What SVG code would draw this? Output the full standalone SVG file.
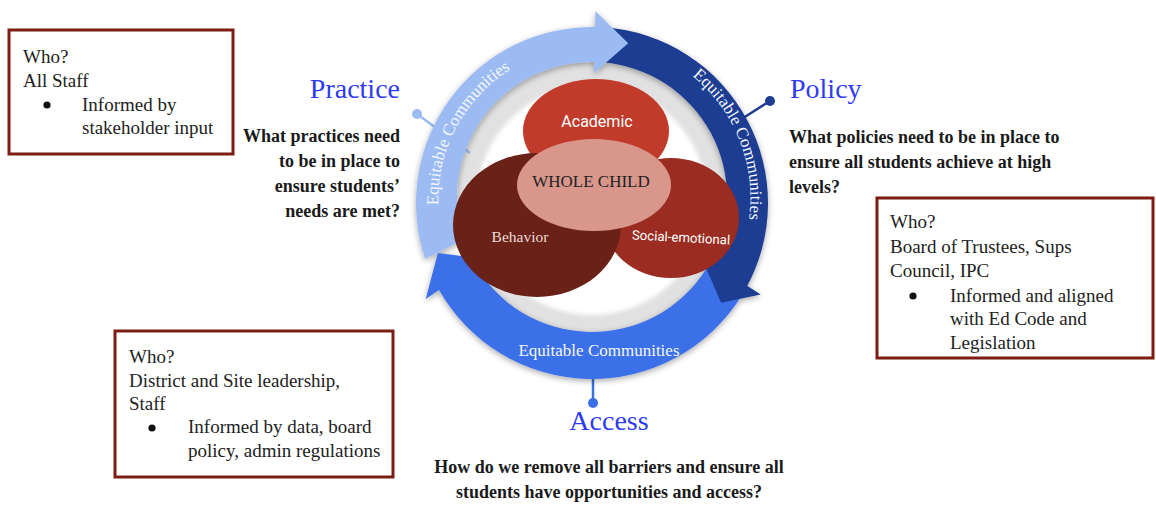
<svg xmlns="http://www.w3.org/2000/svg" width="1156" height="513" viewBox="0 0 1156 513">
<style>
.box{fill:#fff;stroke:#7d1c12;stroke-width:3}
.bt{font-family:"Liberation Serif",serif;font-size:19px;fill:#222}
.head{font-family:"Liberation Serif",serif;font-size:28px;fill:#2e3bf2}
.q{font-family:"Liberation Serif",serif;font-size:18px;font-weight:bold;fill:#1a1a1a}
.eq{font-family:"Liberation Serif",serif;font-size:17px;fill:#f4f7fe}
.rob{font-family:Roboto,"Liberation Sans",sans-serif;fill:#fff}
</style>
<defs>
<filter id="sh" x="-20%" y="-20%" width="140%" height="140%">
<feGaussianBlur in="SourceAlpha" stdDeviation="3"/>
<feOffset dx="0" dy="2" result="b"/>
<feComponentTransfer><feFuncA type="linear" slope="0.35"/></feComponentTransfer>
<feMerge><feMergeNode/><feMergeNode in="SourceGraphic"/></feMerge>
</filter>
<filter id="soft"><feGaussianBlur stdDeviation="2"/></filter>
<path id="arcL" d="M 458.63 276.69 A 154 154 0 0 1 581.26 46.38"/>
<path id="arcR" d="M 620.44 43.37 A 157 157 0 0 1 719.02 292.28"/>
</defs>

<g id="hub">
<circle cx="592" cy="198" r="137" fill="#e1e1e1"/>
<circle cx="592" cy="200" r="115" fill="#fff" filter="url(#soft)"/>
</g>

<g id="connectors">
<line x1="417" y1="114" x2="470" y2="153" stroke="#9dbbf3" stroke-width="2.5"/>
<circle cx="417" cy="114" r="5" fill="#9dbbf3"/>
<line x1="770" y1="101" x2="740" y2="120" stroke="#1e3c91" stroke-width="2.5"/>
<circle cx="770" cy="101" r="5" fill="#1e3c91"/>
<line x1="593" y1="372" x2="593" y2="403" stroke="#3b6fe8" stroke-width="2.5"/>
<circle cx="593" cy="403" r="5" fill="#3b6fe8"/>
</g>

<g id="cycle" filter="url(#sh)">
<path fill="#9dbbf3" d="M 425.10 258.85 A 176 176 0 0 1 598.14 27.11 L 596.71 62.08 A 135 135 0 0 0 463.98 239.84 Z"/>
<path fill="#1e3c91" d="M 604.28 27.43 A 176 176 0 0 1 745.18 289.67 L 709.50 263.48 A 135 135 0 0 0 601.42 62.33 Z"/>
<path fill="#3b6fe8" d="M 741.26 296.27 A 176 176 0 0 1 438.07 288.33 L 473.93 262.45 A 135 135 0 0 0 706.49 268.54 Z"/>
<polygon fill="#9dbbf3" points="595.35,11.03 628.22,43.13 594.16,73.02"/>
<polygon fill="#1e3c91" points="760.73,294.61 721.13,302.71 700.97,256.17"/>
<polygon fill="#3b6fe8" points="425.72,299 437.88,253.07 484.61,259"/>
</g>

<g id="cycle-labels">
<text class="eq" text-anchor="middle"><textPath href="#arcL" startOffset="50%">Equitable Communities</textPath></text>
<text class="eq" text-anchor="middle"><textPath href="#arcR" startOffset="50%">Equitable Communities</textPath></text>
<text class="eq" x="599" y="356" text-anchor="middle">Equitable Communities</text>
</g>

<g id="academic">
<ellipse cx="596" cy="131" rx="73" ry="52" fill="#c13b2b"/>
<text class="rob" x="597" y="127" font-size="16" text-anchor="middle">Academic</text>
</g>
<g id="social-emotional">
<ellipse cx="671" cy="218" rx="68" ry="60" fill="#9a2c21"/>
<text class="rob" x="681" y="242" font-size="13.2" text-anchor="middle" transform="rotate(3 681 238)">Social-emotional</text>
</g>
<g id="behavior">
<ellipse cx="537" cy="225" rx="84" ry="72" fill="#6a2118"/>
<text x="520" y="242" font-family="Liberation Serif, serif" font-size="15.5" fill="#eadbd7" text-anchor="middle">Behavior</text>
</g>
<g id="whole-child">
<ellipse cx="594" cy="185" rx="77" ry="46" fill="#d9978b"/>
<text x="591" y="187" font-family="Liberation Serif, serif" font-size="17" fill="#222" text-anchor="middle">WHOLE CHILD</text>
</g>

<g id="practice">
<text class="head" x="400" y="98" text-anchor="end">Practice</text>
<text class="q" text-anchor="end"><tspan x="400" y="142">What practices need</tspan><tspan x="400" y="167">to be in place to</tspan><tspan x="400" y="192">ensure students’</tspan><tspan x="400" y="217">needs are met?</tspan></text>
</g>

<g id="policy">
<text class="head" x="790" y="98">Policy</text>
<text class="q"><tspan x="789" y="143">What policies need to be in place to</tspan><tspan x="789" y="168">ensure all students achieve at high</tspan><tspan x="789" y="193">levels?</tspan></text>
</g>

<g id="access">
<text class="head" x="609" y="430" text-anchor="middle">Access</text>
<text class="q" text-anchor="middle"><tspan x="609" y="473">How do we remove all barriers and ensure all</tspan><tspan x="609" y="498">students have opportunities and access?</tspan></text>
</g>

<g id="who-practice">
<rect class="box" x="9" y="30" width="224" height="124"/>
<text class="bt"><tspan x="23" y="63">Who?</tspan><tspan x="23" y="87">All Staff</tspan><tspan x="82" y="111">Informed by</tspan><tspan x="82" y="134">stakeholder input</tspan></text>
<circle cx="47" cy="105" r="3.6" fill="#111"/>
</g>

<g id="who-policy">
<rect class="box" x="877" y="198" width="276" height="160"/>
<text class="bt"><tspan x="890" y="228">Who?</tspan><tspan x="890" y="253">Board of Trustees, Sups</tspan><tspan x="890" y="277">Council, IPC</tspan><tspan x="950" y="302">Informed and aligned</tspan><tspan x="950" y="325">with Ed Code and</tspan><tspan x="950" y="349">Legislation</tspan></text>
<circle cx="913" cy="296" r="3.6" fill="#111"/>
</g>

<g id="who-access">
<rect class="box" x="115" y="331" width="278" height="146"/>
<text class="bt"><tspan x="129" y="363">Who?</tspan><tspan x="129" y="387">District and Site leadership,</tspan><tspan x="129" y="410">Staff</tspan><tspan x="188" y="433">Informed by data, board</tspan><tspan x="188" y="457">policy, admin regulations</tspan></text>
<circle cx="152" cy="428" r="3.6" fill="#111"/>
</g>
</svg>
